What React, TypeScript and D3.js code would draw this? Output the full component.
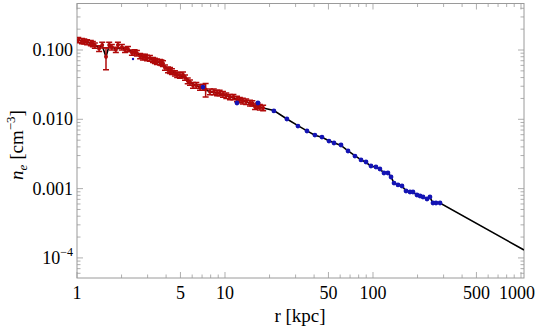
import React from "react";
import * as d3 from "d3";

// ---- data ----
const redR = [1.02,1.08,1.12,1.17,1.24,1.28,1.32,1.41,1.48,1.57,1.65,1.72,1.83,1.89,2.01,2.11,2.21,2.35,2.45,2.54,2.67,2.79,2.88,2.97,3.11,3.26,3.36,3.47,3.64,3.72,3.81,3.93,4.12,4.25,4.38,4.59,4.75,4.96,5.2,5.37,5.6,5.8,6.08,6.4,6.78,7.1,7.4,7.92,8.4,8.84,9.2,9.69,10.2,10.8,11.4,12.05,12.6,13.2,13.9,14.75,15.3,15.96,16.6,17.2,18.1];
const redN = [0.139,0.135,0.133,0.13,0.126,0.122,0.116,0.105,0.118,0.08,0.118,0.11,0.101,0.118,0.11,0.101,0.103,0.092,0.093,0.09,0.082,0.079,0.08,0.077,0.076,0.072,0.07,0.068,0.067,0.066,0.064,0.056,0.052,0.051,0.049,0.046,0.044,0.043,0.044,0.04,0.036,0.034,0.031,0.031,0.029,0.029,0.027,0.025,0.025,0.024,0.024,0.023,0.022,0.021,0.021,0.0197,0.019,0.0184,0.018,0.0172,0.017,0.0152,0.0158,0.015,0.0146];
const redErr = [0.012,0.012,0.011,0.011,0.011,0.011,0.01,0.01,0.011,0.028,0.011,0.01,0.009,0.011,0.01,0.009,0.009,0.008,0.008,0.008,0.007,0.007,0.007,0.007,0.007,0.006,0.006,0.006,0.006,0.006,0.006,0.005,0.005,0.005,0.0045,0.004,0.004,0.004,0.004,0.0035,0.0035,0.003,0.003,0.003,0.0027,0.0027,0.006,0.0023,0.0023,0.0022,0.0022,0.0021,0.002,0.0019,0.0019,0.0018,0.0017,0.0017,0.0016,0.0016,0.0015,0.0014,0.0014,0.0014,0.0013];

const blueR = [2.39,7.1,12.05,16.7,21.4,26.2,31.1,35.8,40.5,45.2,50.4,54.5,60.8,67.8,75.5,83.0,89.7,96.9,104.7,111.4,118.6,126.2,132.4,138.7,147.6,157.0,167.1,177.8,186.3,198.2,207.9,217.8,231.7,242.7,254.3,266.6,283.8];
const blueN = [0.0741,0.0292,0.0172,0.0172,0.0132,0.0101,0.008,0.00678,0.00593,0.00555,0.00486,0.00455,0.00426,0.00349,0.00295,0.00259,0.00242,0.00212,0.00205,0.00192,0.00168,0.00168,0.00147,0.0012,0.00113,0.00109,0.000923,0.000893,0.000893,0.000809,0.000782,0.000757,0.000708,0.000757,0.00062,0.00062,0.00062];

const modelR = [1,1.08,1.17,1.28,1.41,1.48,1.57,1.65,1.83,2.0,2.2,2.5,2.8,3.1,3.5,3.9,4.4,5.0,5.4,6.1,6.8,7.9,8.8,10.2,12,13.9,16,18.1,21.4,26.2,31.1,35.8,40.5,45.2,50.4,54.5,60.8,67.8,75.5,83,89.7,96.9,104.7,111.4,118.6,126.2,132.4,138.7,147.6,157,167.1,177.8,186.3,198.2,207.9,217.8,231.7,242.7,254.3,283.8,1048];
const modelN = [0.142,0.135,0.13,0.122,0.108,0.115,0.08,0.116,0.104,0.108,0.102,0.091,0.08,0.076,0.068,0.058,0.049,0.043,0.04,0.032,0.029,0.025,0.024,0.022,0.0197,0.018,0.0155,0.0146,0.0134,0.0101,0.0081,0.0068,0.0059,0.0055,0.0049,0.0046,0.0042,0.0035,0.003,0.0026,0.0024,0.0021,0.00205,0.0019,0.0017,0.0017,0.00147,0.0012,0.00113,0.00109,0.00093,0.00089,0.00089,0.00081,0.00078,0.00076,0.00071,0.00075,0.00062,0.00062,0.00013];

const xMajor = [1, 5, 10, 50, 100, 500, 1000];
const xMajorLabels = ["1", "5", "10", "50", "100", "500", "1000"];
const yMajor = [0.1, 0.01, 0.001, 0.0001];
const yMajorLabels = ["0.100", "0.010", "0.001", "10^-4"];

const FONT = "'Liberation Serif', 'Times New Roman', Times, serif";

export default function App() {
  const L = 77, R = 524, T = 3.5, B = 278;
  const x = d3.scaleLog().domain([1, 1048]).range([L, R]);
  const y = d3.scaleLog().domain([5.13e-5, 0.469]).range([B, T]);

  const xMinor: number[] = [];
  for (const d of [1, 10, 100]) for (let k = 2; k <= 9; k++) if (k !== 5 && d * k <= 1048) xMinor.push(d * k);
  const yMinor: number[] = [];
  for (const d of [1e-5, 1e-4, 1e-3, 1e-2, 1e-1]) for (let k = 2; k <= 9; k++) {
    const v = d * k;
    if (v >= 5.13e-5 && v <= 0.469) yMinor.push(v);
  }

  const line = d3.line<number>().x((_, i) => x(modelR[i])).y((_, i) => y(modelN[i]));
  const modelPath = line(modelR.map((_, i) => i)) || "";

  const frameColor = "#9a9a9a";
  const red = "#b00a0a";
  const blue = "#1414b4";
  const majL = 6, minL = 3.5;

  return (
    <div style={{ position: "fixed", left: 0, top: 0 }}>
      <svg width={540} height={329} style={{ display: "block", background: "#fff" }}>
        <defs>
          <clipPath id="plot"><rect x={L} y={T} width={R - L} height={B - T} /></clipPath>
        </defs>
        <g stroke={frameColor} strokeWidth={0.8}>
          {xMajor.map((v) => (
            <g key={"xm" + v}>
              <line x1={x(v)} x2={x(v)} y1={B} y2={B - majL} />
              <line x1={x(v)} x2={x(v)} y1={T} y2={T + majL} />
            </g>
          ))}
          {xMinor.map((v) => (
            <g key={"xn" + v}>
              <line x1={x(v)} x2={x(v)} y1={B} y2={B - minL} />
              <line x1={x(v)} x2={x(v)} y1={T} y2={T + minL} />
            </g>
          ))}
          {yMajor.map((v) => (
            <g key={"ym" + v}>
              <line x1={L} x2={L + majL} y1={y(v)} y2={y(v)} />
              <line x1={R} x2={R - majL} y1={y(v)} y2={y(v)} />
            </g>
          ))}
          {yMinor.map((v) => (
            <g key={"yn" + v}>
              <line x1={L} x2={L + minL} y1={y(v)} y2={y(v)} />
              <line x1={R} x2={R - minL} y1={y(v)} y2={y(v)} />
            </g>
          ))}
        </g>
        <rect x={L} y={T} width={R - L} height={B - T} fill="none" stroke={frameColor} strokeWidth={1} />

        <g clipPath="url(#plot)">
          <path d={modelPath} fill="none" stroke="#000" strokeWidth={1.6} />
          <g stroke={red} strokeWidth={1.5} fill={red}>
            {redR.map((r, i) => {
              const cx = x(r);
              const y1 = y(redN[i] + redErr[i]);
              const y2 = y(Math.max(redN[i] - redErr[i], 1e-5));
              return (
                <g key={"r" + i}>
                  <line x1={cx} x2={cx} y1={y1} y2={y2} />
                  <line x1={cx - 3} x2={cx + 3} y1={y1} y2={y1} />
                  <line x1={cx - 3} x2={cx + 3} y1={y2} y2={y2} />
                  <circle cx={cx} cy={y(redN[i])} r={2} stroke="none" />
                </g>
              );
            })}
          </g>
          <g fill={blue}>
            {blueR.map((r, i) => (
              <circle key={"b" + i} cx={x(r)} cy={y(blueN[i])} r={i === 0 ? 1.2 : 2.4} />
            ))}
          </g>
        </g>

        <g fontFamily={FONT} fontSize={18} fill="#000" textAnchor="middle">
          {xMajor.map((v, i) => (
            <text key={"xl" + v} x={v === 1000 ? x(v) - 4 : x(v)} y={299}>{xMajorLabels[i]}</text>
          ))}
        </g>
        <g fontFamily={FONT} fontSize={18} fill="#000" textAnchor="end">
          {yMajor.map((v, i) => {
            const lab = yMajorLabels[i];
            if (lab.includes("^")) {
              const [base, exp] = lab.split("^");
              return (
                <text key={"yl" + v} x={73} y={y(v) + 6}>
                  {base}
                  <tspan dy={-8} fontSize={12}>{exp.replace("-", "\u2212")}</tspan>
                </text>
              );
            }
            return <text key={"yl" + v} x={73} y={y(v) + 6}>{lab}</text>;
          })}
        </g>
        <text x={300} y={322} fontFamily={FONT} fontSize={19} textAnchor="middle">r [kpc]</text>
        <text transform="translate(23,145) rotate(-90)" fontFamily={FONT} fontSize={19} textAnchor="middle">
          <tspan fontStyle="italic">n</tspan>
          <tspan fontStyle="italic" fontSize={13} dy={4}>e</tspan>
          <tspan dy={-4}> [cm</tspan>
          <tspan fontSize={13} dy={-8}>{"\u22123"}</tspan>
          <tspan dy={8}>]</tspan>
        </text>
      </svg>
    </div>
  );
}
